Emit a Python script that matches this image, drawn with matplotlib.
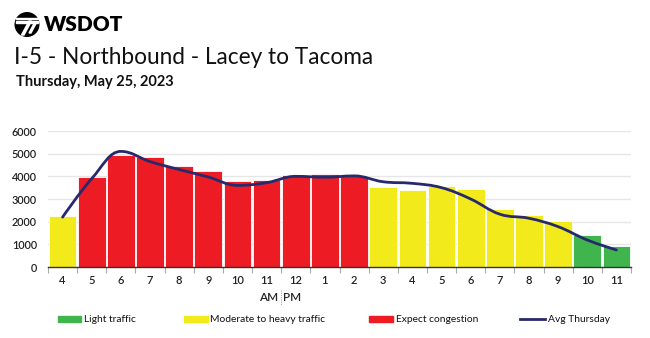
import numpy as np
import matplotlib
matplotlib.use("Agg")
import matplotlib.pyplot as plt
from matplotlib.patches import Circle, Rectangle, Polygon
from matplotlib.path import Path
from matplotlib.patches import PathPatch

plt.rcParams['font.family'] = ['Lato', 'DejaVu Sans']

hours = ["4", "5", "6", "7", "8", "9", "10", "11", "12", "1",
         "2", "3", "4", "5", "6", "7", "8", "9", "10", "11"]
volume = [2250, 3950, 4950, 4850, 4450, 4250, 3800, 3850, 4080, 4120,
          4000, 3520, 3380, 3570, 3420, 2570, 2300, 2030, 1420, 920]
level = ["mod", "cong", "cong", "cong", "cong", "cong", "cong", "cong", "cong", "cong",
         "cong", "mod", "mod", "mod", "mod", "mod", "mod", "mod", "light", "light"]
avg_thursday = [2200, 3900, 5100, 4650, 4300, 3970, 3600, 3720, 4000, 3960,
                4020, 3760, 3690, 3500, 3000, 2330, 2150, 1780, 1190, 750]

colors = {"light": "#41b54d", "mod": "#f2ea1b", "cong": "#ed1c24"}
legend_items = [("light", "Light traffic"), ("mod", "Moderate to heavy traffic"),
                ("cong", "Expect congestion")]
line_color = "#27296d"


def spline_path(xs, ys, smoothing=1.5):
    # bezier spline through the points, highcharts style
    denom = smoothing + 1
    n = len(xs)
    verts = [(xs[0], ys[0])]
    codes = [Path.MOVETO]
    left = [None] * n
    right = [None] * n
    for i in range(n):
        if i == 0 or i == n - 1:
            left[i] = (xs[i], ys[i])
            right[i] = (xs[i], ys[i])
            continue
        px, py = xs[i], ys[i]
        lx, ly = xs[i - 1], ys[i - 1]
        nx, ny = xs[i + 1], ys[i + 1]
        lcx = (smoothing * px + lx) / denom
        lcy = (smoothing * py + ly) / denom
        rcx = (smoothing * px + nx) / denom
        rcy = (smoothing * py + ny) / denom
        if rcx != lcx:
            corr = (rcy - lcy) * (rcx - px) / (rcx - lcx) + py - rcy
            lcy += corr
            rcy += corr
        if lcy > ly and lcy > py:
            lcy = max(ly, py)
            rcy = 2 * py - lcy
        elif lcy < ly and lcy < py:
            lcy = min(ly, py)
            rcy = 2 * py - lcy
        if rcy > ny and rcy > py:
            rcy = max(ny, py)
            lcy = 2 * py - rcy
        elif rcy < ny and rcy < py:
            rcy = min(ny, py)
            lcy = 2 * py - rcy
        left[i] = (lcx, lcy)
        right[i] = (rcx, rcy)
    for i in range(1, n):
        verts += [right[i - 1], left[i], (xs[i], ys[i])]
        codes += [Path.CURVE4] * 3
    return Path(verts, codes)


fig = plt.figure(figsize=(6.5, 3.38), dpi=100)
W, H = 650, 338

# overlay in pixel coordinates for logo, titles and legend
over = fig.add_axes([0, 0, 1, 1])
over.set_xlim(0, W)
over.set_ylim(H, 0)
over.axis("off")
over.add_patch(Circle((27, 24.5), 11.8, color="black"))
for yy in (17.5, 21):
    over.add_patch(Rectangle((16, yy), 22, 1.6, color="white"))
over.add_patch(Polygon([(29, 21), (31.5, 21), (24, 35), (21.5, 35)], color="white"))
over.add_patch(Polygon([(34.5, 22.6), (36.5, 22.6), (31, 33), (29, 33)], color="white"))
over.text(44, 24.5, "WSDOT", fontsize=15, fontweight="heavy", va="center", ha="left")

over.text(14, 57, "I-5 - Northbound - Lacey to Tacoma",
          fontsize=16.3, va="center", ha="left", color="#111111")
over.text(16, 82, "Thursday, May 25, 2023",
          fontsize=10.5, fontweight="bold", va="center", ha="left", color="#111111")

ax = fig.add_axes([48 / W, 1 - 267 / H, (631 - 48) / W, (267 - 131) / H])
x = np.arange(len(hours))
ax.bar(x, volume, width=0.95, color=[colors[l] for l in level],
       edgecolor="white", linewidth=0.6, zorder=2)
ax.add_patch(PathPatch(spline_path(x, avg_thursday), facecolor="none",
                       edgecolor=line_color, linewidth=2, zorder=3,
                       capstyle="round"))

ax.set_xlim(-0.5, len(hours) - 0.5)
ax.set_ylim(0, 6000)
ax.set_yticks(range(0, 6001, 1000))
ax.yaxis.grid(True, color="#e6e6e6", linewidth=1, zorder=0)
ax.set_axisbelow(True)
for side in ("top", "right", "left"):
    ax.spines[side].set_visible(False)
ax.spines["bottom"].set_color("#333333")
ax.spines["bottom"].set_linewidth(1)
ax.set_xticks(x)
ax.set_xticklabels(hours)
ax.set_xticks(np.arange(-0.5, len(hours)), minor=True)
ax.tick_params(axis="x", which="major", length=0, pad=6, labelsize=8, labelcolor="#222222")
ax.tick_params(axis="x", which="minor", length=4, color="#aaaaaa", width=0.8)
ax.tick_params(axis="y", length=0, pad=8, labelsize=7.8, labelcolor="#222222")
for lab in ax.get_xticklabels() + ax.get_yticklabels():
    lab.set_fontweight("semibold")

# AM | PM marker under the noon boundary
over.text(278, 297.5, "AM", fontsize=8.5, fontweight="semibold",
          ha="right", va="center", color="#222222")
over.text(283.5, 297.5, "PM", fontsize=8.5, fontweight="semibold",
          ha="left", va="center", color="#222222")
over.plot([280.5, 280.5], [290, 305], color="#aaaaaa", linewidth=0.8, linestyle=(0, (1, 1)))

# legend
legend_x = [57.5, 184, 369]
for (key, label), lx in zip(legend_items, legend_x):
    over.add_patch(Rectangle((lx, 316.3), 23.5, 5.4, color=colors[key]))
    over.text(lx + 26.5, 319, label, fontsize=7.4, va="center", ha="left", color="#111111")
over.plot([520, 545], [319, 319], color=line_color, linewidth=2)
over.text(548, 319, "Avg Thursday", fontsize=7.4, va="center", ha="left", color="#111111")

fig.savefig("out.png", dpi=100)
